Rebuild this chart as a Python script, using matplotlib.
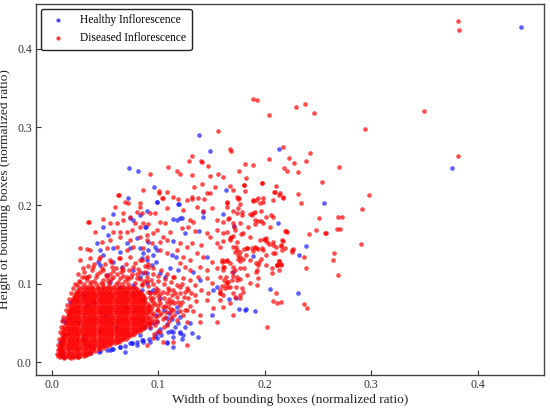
import matplotlib
matplotlib.use("Agg")
import matplotlib.pyplot as plt

# ---------------- data (width, height) in normalized ratio ----------------
healthy_points = [
    (0.440, 0.428), (0.376, 0.248), (0.2135, 0.272), (0.256, 0.203), (0.138, 0.290),
    (0.1485, 0.270), (0.073, 0.248), (0.081, 0.244), (0.096, 0.2235), (0.0716, 0.209),
    (0.0985, 0.204), (0.119, 0.202), (0.1635, 0.2195), (0.212, 0.177), (0.2386, 0.1485),
    (0.232, 0.136), (0.2308, 0.0885), (0.1607, 0.1886), (0.189, 0.135), (0.2048, 0.0928),
    (0.1666, 0.080), (0.1726, 0.0813), (0.1757, 0.0673), (0.182, 0.0673),
    (0.0988, 0.204), (0.1197, 0.2018), (0.0891, 0.1932), (0.1141, 0.1826), (0.1204, 0.1835),
    (0.1422, 0.1856), (0.1713, 0.1737), (0.1253, 0.1643), (0.0878, 0.1728), (0.1141, 0.1549),
    (0.1385, 0.1677), (0.0828, 0.1452), (0.0859, 0.1388), (0.0969, 0.1465), (0.0985, 0.143),
    (0.1126, 0.1367), (0.1166, 0.1345), (0.1454, 0.1345), (0.0891, 0.1303), (0.0938, 0.1239),
    (0.0978, 0.1281), (0.111, 0.1196), (0.1188, 0.1175), (0.1328, 0.1153), (0.1016, 0.1133),
    (0.1063, 0.1082), (0.1391, 0.1047), (0.1516, 0.092), (0.1548, 0.0962), (0.0859, 0.1133),
    (0.0891, 0.1005), (0.0953, 0.092), (0.0844, 0.092),
    (0.0578, 0.0166), (0.0688, 0.0132), (0.0797, 0.0217), (0.0859, 0.026), (0.0985, 0.0302),
    (0.1079, 0.026), (0.1141, 0.0387), (0.1235, 0.0345), (0.1204, 0.0387), (0.1079, 0.0558),
    (0.1173, 0.0643), (0.150, 0.060), (0.1813, 0.0664), (0.1907, 0.065), (0.1016, 0.0813),
    (0.0922, 0.0898), (0.0765, 0.0983), (0.064, 0.0962), (0.0516, 0.111), (0.0453, 0.1239),
    (0.0484, 0.1367), (0.0578, 0.1452), (0.0704, 0.1516), (0.0797, 0.158), (0.0906, 0.143),
    (0.0953, 0.1367), (0.0484, 0.1728), (0.0734, 0.1835), (0.1173, 0.1814), (0.122, 0.1835),
    (0.1422, 0.192), (0.0172, 0.077), (0.0125, 0.0515), (0.0078, 0.026), (0.0094, 0.0132),
    (0.0093, 0.011), (0.0328, 0.0728), (0.0547, 0.1026), (0.0296, 0.0856), (0.170, 0.1153),
    (0.0985, 0.0515), (0.0922, 0.043), (0.0828, 0.0345), (0.0734, 0.0237), (0.064, 0.0195),
    (0.0547, 0.0153), (0.0453, 0.0145), (0.1141, 0.0196), (0.1375, 0.0323),
    (0.0572, 0.189), (0.0531, 0.1622), (0.0765, 0.1814), (0.0828, 0.1877), (0.0885, 0.1728),
    (0.0422, 0.1524), (0.0453, 0.143), (0.064, 0.1409), (0.0734, 0.1452), (0.0844, 0.1324),
    (0.0906, 0.1537), (0.0437, 0.128), (0.0578, 0.128), (0.0656, 0.1217), (0.0765, 0.1175),
    (0.0828, 0.109), (0.0891, 0.1133),
    (0.036, 0.011), (0.044, 0.013), (0.052, 0.015), (0.057, 0.016), (0.064, 0.019),
    (0.069, 0.021), (0.075, 0.024), (0.080, 0.026), (0.085, 0.028), (0.091, 0.030),
    (0.097, 0.033), (0.103, 0.035), (0.109, 0.038), (0.112, 0.040), (0.116, 0.045),
    (0.119, 0.050), (0.010, 0.008), (0.012, 0.006), (0.0094, 0.028), (0.0109, 0.0536),
    (0.0985, 0.0366), (0.108, 0.024), (0.114, 0.032), (0.1204, 0.0366), (0.122, 0.030),
    (0.1313, 0.0366), (0.086, 0.028), (0.092, 0.026), (0.075, 0.0238),
    (0.088, 0.045), (0.095, 0.050), (0.102, 0.042), (0.108, 0.048), (0.113, 0.055),
    (0.120, 0.058), (0.125, 0.045), (0.130, 0.050), (0.118, 0.070), (0.105, 0.066),
    (0.098, 0.060), (0.110, 0.062),
    (0.030, 0.030), (0.045, 0.040), (0.025, 0.050), (0.050, 0.060), (0.040, 0.075),
    (0.060, 0.045), (0.035, 0.020), (0.070, 0.070),
]

diseased_outliers = [
    (0.381, 0.4355), (0.382, 0.4236), (0.3495, 0.3206), (0.381, 0.2635), (0.2295, 0.3257),
    (0.238, 0.329), (0.246, 0.318), (0.2936, 0.298), (0.217, 0.274), (0.242, 0.2665),
    (0.2226, 0.2605), (0.239, 0.257), (0.2273, 0.254), (0.2176, 0.2478), (0.221, 0.244),
    (0.2308, 0.243), (0.2698, 0.249), (0.2536, 0.2295), (0.2107, 0.2244), (0.210, 0.2167),
    (0.2145, 0.2155), (0.217, 0.210), (0.2313, 0.215), (0.298, 0.213), (0.2336, 0.2026),
    (0.2908, 0.1958), (0.2505, 0.1843), (0.2683, 0.1856), (0.272, 0.1848), (0.2676, 0.170),
    (0.271, 0.170), (0.248, 0.169), (0.2564, 0.1648), (0.2573, 0.165), (0.2417, 0.1635),
    (0.2198, 0.1673), (0.2163, 0.1554), (0.2154, 0.1486), (0.2191, 0.1456), (0.2266, 0.1439),
    (0.226, 0.1409), (0.2158, 0.1426), (0.2904, 0.1503), (0.2648, 0.1392), (0.2642, 0.1307),
    (0.2367, 0.1345), (0.2132, 0.129), (0.2117, 0.1239), (0.2154, 0.1248), (0.2132, 0.1179),
    (0.2383, 0.1205), (0.2686, 0.1107), (0.2104, 0.0885), (0.211, 0.0757), (0.237, 0.0745),
    (0.2398, 0.0693),
    (0.189, 0.336), (0.193, 0.334), (0.204, 0.3155), (0.156, 0.2954), (0.1675, 0.272),
    (0.1685, 0.2695), (0.132, 0.2635), (0.129, 0.257), (0.140, 0.2567), (0.141, 0.256),
    (0.147, 0.250), (0.1754, 0.2443), (0.1816, 0.253), (0.1888, 0.252), (0.204, 0.259),
    (0.109, 0.2486), (0.0925, 0.240), (0.118, 0.2443), (0.120, 0.2397), (0.132, 0.2388),
    (0.1485, 0.2379), (0.156, 0.240), (0.161, 0.2358), (0.1825, 0.235), (0.197, 0.229),
    (0.1335, 0.224), (0.1415, 0.2277), (0.1807, 0.226), (0.1673, 0.2252), (0.0856, 0.2197),
    (0.101, 0.2188), (0.1085, 0.2175), (0.1488, 0.216), (0.1704, 0.220), (0.1813, 0.218),
    (0.0629, 0.2137), (0.1035, 0.2095), (0.1185, 0.208), (0.132, 0.2086), (0.143, 0.2086),
    (0.189, 0.2056), (0.198, 0.2047), (0.2085, 0.2167), (0.1529, 0.2235), (0.1757, 0.209),
    (0.1932, 0.209),
]

diseased_mid = [
    (0.1807, 0.2265), (0.1973, 0.229), (0.213, 0.2137), (0.2167, 0.2103), (0.1642, 0.2027),
    (0.1748, 0.2078), (0.1917, 0.2065), (0.170, 0.1928), (0.175, 0.1963), (0.179, 0.192),
    (0.189, 0.1907), (0.188, 0.188), (0.1966, 0.1928), (0.2054, 0.188), (0.1663, 0.1843),
    (0.1907, 0.1814), (0.1966, 0.1805), (0.2007, 0.1848), (0.161, 0.1784), (0.1704, 0.1771),
    (0.1904, 0.1759), (0.1713, 0.1724), (0.1722, 0.1686), (0.1647, 0.1664), (0.219, 0.1677),
    (0.2204, 0.166), (0.1779, 0.1635), (0.1682, 0.1596), (0.1698, 0.1605), (0.1673, 0.1554),
    (0.174, 0.1537), (0.161, 0.154), (0.1989, 0.1575), (0.2001, 0.1558), (0.2017, 0.1533),
    (0.2036, 0.1507), (0.2079, 0.149), (0.2148, 0.149), (0.2173, 0.154), (0.2104, 0.1473),
    (0.1726, 0.1465), (0.1766, 0.1409), (0.1717, 0.1409), (0.1804, 0.1439), (0.1835, 0.1452),
    (0.1879, 0.1452), (0.1917, 0.1456), (0.1935, 0.1443), (0.1973, 0.1452), (0.1891, 0.142),
    (0.2073, 0.1396), (0.2257, 0.143), (0.1797, 0.1319), (0.1823, 0.137), (0.175, 0.1362),
    (0.1748, 0.1311), (0.1766, 0.1286), (0.1595, 0.1303), (0.1616, 0.1286), (0.1647, 0.1303),
    (0.1673, 0.126), (0.1966, 0.1311), (0.1948, 0.1277), (0.1938, 0.1239), (0.213, 0.1286),
    (0.2117, 0.1239), (0.2148, 0.1243), (0.1616, 0.1217), (0.161, 0.1175), (0.1704, 0.1209),
    (0.1722, 0.1175), (0.1804, 0.1205), (0.1923, 0.1175), (0.1704, 0.1098), (0.1635, 0.109),
    (0.1735, 0.1082), (0.2067, 0.1133), (0.1616, 0.1047), (0.1654, 0.1026), (0.1691, 0.1047),
    (0.1766, 0.1064), (0.1595, 0.097), (0.1635, 0.0996), (0.1626, 0.0941), (0.1673, 0.0962),
    (0.1729, 0.0954), (0.1785, 0.0941), (0.1929, 0.0983), (0.1579, 0.0877), (0.161, 0.0856),
    (0.1704, 0.0877), (0.1766, 0.0856), (0.2079, 0.0783), (0.2148, 0.0766), (0.161, 0.0706),
    (0.1579, 0.0792),
    (0.101, 0.2154), (0.1047, 0.209), (0.114, 0.2112), (0.1266, 0.207), (0.1313, 0.2103),
    (0.1375, 0.209), (0.1453, 0.2154), (0.1641, 0.2048), (0.1735, 0.2112), (0.1766, 0.2018),
    (0.1891, 0.207), (0.1954, 0.2027), (0.1985, 0.209), (0.2079, 0.207),
    (0.0828, 0.1984), (0.0922, 0.1899), (0.0969, 0.1908), (0.1078, 0.1963), (0.1235, 0.1942),
    (0.136, 0.1984), (0.1422, 0.1933), (0.150, 0.1963), (0.1641, 0.1984), (0.1735, 0.1908),
    (0.1782, 0.1878), (0.186, 0.1891), (0.1907, 0.192), (0.2079, 0.1856),
    (0.0859, 0.1771), (0.0906, 0.1763), (0.1016, 0.1793), (0.1063, 0.1771), (0.1297, 0.1814),
    (0.1328, 0.1793), (0.1547, 0.1814), (0.1657, 0.1822), (0.1766, 0.1771), (0.1844, 0.172),
    (0.1938, 0.1805), (0.1985, 0.1771), (0.2047, 0.1729),
    (0.0953, 0.1644), (0.0984, 0.1686), (0.1047, 0.1601), (0.111, 0.1665), (0.1219, 0.1707),
    (0.1281, 0.1729), (0.1344, 0.1678), (0.1453, 0.1644), (0.1485, 0.1601), (0.1547, 0.1686),
    (0.161, 0.1644), (0.1672, 0.158), (0.1797, 0.1644), (0.186, 0.1601), (0.1954, 0.1558),
    (0.2016, 0.158), (0.2079, 0.1537),
    (0.0891, 0.1558), (0.0937, 0.1516), (0.1016, 0.1537), (0.1078, 0.1558), (0.1203, 0.1516),
    (0.1266, 0.1473), (0.1313, 0.1516), (0.1406, 0.1495), (0.1547, 0.1516), (0.1578, 0.1465),
    (0.1704, 0.1473), (0.1735, 0.1431), (0.1829, 0.1452), (0.1907, 0.1473), (0.1985, 0.1431),
    (0.2016, 0.1367), (0.2094, 0.1388),
    (0.1016, 0.1431), (0.1078, 0.1388), (0.1172, 0.1431), (0.1235, 0.1346), (0.1297, 0.1303),
    (0.136, 0.1388), (0.1422, 0.1346), (0.150, 0.1282), (0.1594, 0.1282), (0.1641, 0.1294),
    (0.1766, 0.1346), (0.186, 0.1303), (0.1922, 0.1261), (0.2016, 0.124), (0.211, 0.124),
    (0.1203, 0.1261), (0.125, 0.1218), (0.1297, 0.1175), (0.1391, 0.1218), (0.1453, 0.1175),
    (0.1547, 0.1197), (0.161, 0.1209), (0.1688, 0.1154), (0.1766, 0.1197), (0.1829, 0.1111),
    (0.1922, 0.1154), (0.2063, 0.1197),
    (0.114, 0.109), (0.1235, 0.1069), (0.1297, 0.1048), (0.1375, 0.1082), (0.1453, 0.1069),
    (0.150, 0.1005), (0.1578, 0.109), (0.1641, 0.1026), (0.1735, 0.1048), (0.186, 0.1005),
    (0.1938, 0.1069),
    (0.1203, 0.0962), (0.1281, 0.092), (0.1344, 0.0984), (0.1406, 0.092), (0.1469, 0.0877),
    (0.1578, 0.092), (0.1657, 0.0962), (0.1719, 0.0835), (0.1797, 0.0899),
    (0.085, 0.130), (0.090, 0.125), (0.095, 0.120), (0.088, 0.115), (0.100, 0.110),
    (0.093, 0.105), (0.105, 0.100), (0.098, 0.095), (0.085, 0.100), (0.110, 0.092),
    (0.090, 0.090), (0.102, 0.087), (0.113, 0.085), (0.095, 0.082), (0.086, 0.080),
    (0.1266, 0.0217), (0.139, 0.060), (0.1548, 0.0515), (0.1673, 0.075), (0.1766, 0.0813),
    (0.2017, 0.045), (0.1266, 0.0515), (0.1204, 0.0728), (0.1344, 0.0856), (0.1454, 0.0792),
    (0.1579, 0.0877), (0.1079, 0.0473), (0.1016, 0.0387), (0.1173, 0.0536), (0.1235, 0.060),
    (0.111, 0.0643), (0.1266, 0.0664), (0.139, 0.0515), (0.1516, 0.0686), (0.1704, 0.060),
    (0.0953, 0.0302), (0.0891, 0.0217), (0.1047, 0.026), (0.1141, 0.026),
    (0.0625, 0.2133), (0.0353, 0.1784), (0.0406, 0.1664), (0.0484, 0.1822), (0.0547, 0.178),
    (0.0594, 0.1984), (0.0688, 0.2047), (0.0719, 0.2027), (0.0828, 0.2027), (0.0672, 0.190),
    (0.0734, 0.1856), (0.0797, 0.192), (0.0844, 0.1907), (0.061, 0.1771), (0.0672, 0.1814),
    (0.0781, 0.1771), (0.0828, 0.1728), (0.0578, 0.1664), (0.064, 0.1664), (0.0704, 0.1664),
    (0.075, 0.1686), (0.0469, 0.1537), (0.0547, 0.1558), (0.064, 0.160), (0.0734, 0.1558),
    (0.0828, 0.160), (0.0891, 0.1622), (0.0328, 0.1439), (0.036, 0.143), (0.0516, 0.1452),
    (0.061, 0.1473), (0.0704, 0.143), (0.0765, 0.1473), (0.0859, 0.1452), (0.0265, 0.1303),
    (0.036, 0.1324), (0.0453, 0.1345), (0.0547, 0.1303), (0.064, 0.1324), (0.0734, 0.1337),
    (0.0828, 0.1303), (0.0891, 0.1345), (0.0296, 0.1196), (0.039, 0.1217), (0.0484, 0.1175),
    (0.0563, 0.1217), (0.0672, 0.1175), (0.0765, 0.1217), (0.0828, 0.1153), (0.0906, 0.1217),
    (0.025, 0.112), (0.0328, 0.109), (0.0422, 0.112), (0.0516, 0.109), (0.061, 0.112),
    (0.0704, 0.109), (0.0797, 0.112), (0.0891, 0.109), (0.0343, 0.179), (0.0265, 0.1452),
    (0.092, 0.045), (0.096, 0.052), (0.094, 0.060), (0.099, 0.066), (0.097, 0.074),
    (0.104, 0.070), (0.101, 0.079), (0.108, 0.077), (0.106, 0.058), (0.112, 0.068),
    (0.115, 0.075), (0.118, 0.083), (0.092, 0.083), (0.096, 0.088), (0.100, 0.092),
    (0.090, 0.097), (0.095, 0.100), (0.087, 0.104), (0.080, 0.107), (0.072, 0.106),
    (0.064, 0.107), (0.056, 0.106), (0.048, 0.105), (0.040, 0.104), (0.033, 0.105),
    (0.027, 0.102), (0.005, 0.010), (0.006, 0.015), (0.006, 0.022), (0.007, 0.030),
    (0.008, 0.038), (0.009, 0.045), (0.010, 0.052), (0.011, 0.058), (0.013, 0.066),
    (0.014, 0.073), (0.016, 0.080), (0.018, 0.088), (0.020, 0.095), (0.022, 0.100),
    (0.012, 0.005), (0.018, 0.005), (0.025, 0.007), (0.032, 0.009),
    (0.092, 0.050), (0.098, 0.057), (0.103, 0.062), (0.093, 0.068), (0.095, 0.076),
    (0.100, 0.072), (0.105, 0.082), (0.110, 0.080), (0.108, 0.088), (0.114, 0.092),
    (0.120, 0.088), (0.118, 0.098), (0.112, 0.102), (0.106, 0.106), (0.100, 0.104),
    (0.095, 0.112), (0.103, 0.118), (0.108, 0.112), (0.115, 0.108), (0.122, 0.100),
    (0.125, 0.090), (0.128, 0.082), (0.122, 0.076), (0.130, 0.072), (0.125, 0.067),
    (0.115, 0.060), (0.110, 0.052), (0.105, 0.045), (0.100, 0.040), (0.096, 0.036),
    (0.035, 0.110), (0.045, 0.115), (0.055, 0.113), (0.065, 0.115), (0.075, 0.113),
    (0.050, 0.125), (0.060, 0.120), (0.070, 0.125), (0.040, 0.125), (0.030, 0.115),
    (0.026, 0.104), (0.031, 0.108), (0.037, 0.102), (0.042, 0.108), (0.046, 0.101),
    (0.051, 0.111), (0.053, 0.103), (0.058, 0.109), (0.062, 0.102), (0.067, 0.110),
    (0.069, 0.103), (0.074, 0.108), (0.078, 0.101), (0.083, 0.106), (0.085, 0.098),
    (0.089, 0.103), (0.038, 0.117), (0.047, 0.120), (0.058, 0.116), (0.066, 0.120),
    (0.073, 0.117), (0.081, 0.119), (0.034, 0.123), (0.044, 0.131), (0.056, 0.128),
    (0.063, 0.133), (0.078, 0.127), (0.088, 0.122), (0.028, 0.108), (0.024, 0.098),
    (0.093, 0.055), (0.095, 0.063), (0.094, 0.071), (0.093, 0.079), (0.092, 0.088),
    (0.097, 0.047), (0.099, 0.053), (0.101, 0.060), (0.100, 0.067), (0.102, 0.075),
    (0.100, 0.084), (0.098, 0.090), (0.104, 0.055), (0.107, 0.064), (0.106, 0.072),
    (0.109, 0.070), (0.104, 0.090), (0.109, 0.095), (0.112, 0.058), (0.114, 0.066),
    (0.111, 0.075), (0.113, 0.078), (0.116, 0.088), (0.120, 0.065), (0.119, 0.077),
    (0.124, 0.083), (0.127, 0.095), (0.131, 0.088), (0.135, 0.078), (0.133, 0.065),
]

# dense core: each row is (height, [widths])
diseased_core_rows = [
    (0.006, [0.008, 0.012, 0.016, 0.021, 0.025]),
    (0.008, [0.006, 0.010, 0.014, 0.019, 0.023, 0.027, 0.030]),
    (0.010, [0.007, 0.010, 0.014, 0.018, 0.023, 0.027, 0.031, 0.034]),
    (0.012, [0.008, 0.012, 0.016, 0.020, 0.025, 0.029, 0.033, 0.037]),
    (0.014, [0.009, 0.012, 0.016, 0.021, 0.025, 0.029, 0.033, 0.037, 0.041]),
    (0.016, [0.007, 0.010, 0.014, 0.018, 0.023, 0.027, 0.031, 0.035, 0.039, 0.044]),
    (0.018, [0.008, 0.011, 0.015, 0.019, 0.023, 0.027, 0.031, 0.036, 0.040, 0.044, 0.048]),
    (0.020, [0.008, 0.011, 0.015, 0.019, 0.023, 0.028, 0.032, 0.036, 0.040, 0.044, 0.048, 0.052]),
    (0.022, [0.009, 0.013, 0.017, 0.021, 0.025, 0.030, 0.034, 0.038, 0.042, 0.046, 0.050, 0.055]),
    (0.024, [0.009, 0.011, 0.015, 0.019, 0.023, 0.027, 0.031, 0.035, 0.039, 0.043, 0.047, 0.051, 0.055, 0.059]),
    (0.026, [0.009, 0.012, 0.016, 0.020, 0.024, 0.028, 0.032, 0.036, 0.041, 0.045, 0.049, 0.053, 0.057, 0.061, 0.063]),
    (0.028, [0.010, 0.012, 0.016, 0.020, 0.024, 0.028, 0.032, 0.037, 0.041, 0.045, 0.049, 0.053, 0.057, 0.061, 0.065]),
    (0.030, [0.010, 0.014, 0.018, 0.022, 0.026, 0.030, 0.034, 0.039, 0.043, 0.047, 0.051, 0.055, 0.059, 0.063, 0.067, 0.070]),
    (0.032, [0.011, 0.012, 0.016, 0.020, 0.024, 0.028, 0.032, 0.036, 0.040, 0.044, 0.048, 0.052, 0.056, 0.060, 0.064, 0.068, 0.072]),
    (0.034, [0.010, 0.013, 0.017, 0.021, 0.025, 0.029, 0.033, 0.037, 0.041, 0.045, 0.049, 0.053, 0.057, 0.061, 0.065, 0.069, 0.073, 0.075]),
    (0.036, [0.012, 0.013, 0.017, 0.021, 0.025, 0.029, 0.033, 0.037, 0.041, 0.045, 0.049, 0.053, 0.057, 0.061, 0.065, 0.069, 0.073, 0.077]),
    (0.038, [0.011, 0.015, 0.019, 0.023, 0.027, 0.031, 0.035, 0.039, 0.043, 0.047, 0.051, 0.055, 0.059, 0.063, 0.067, 0.071, 0.075, 0.079]),
    (0.040, [0.012, 0.016, 0.020, 0.024, 0.028, 0.032, 0.036, 0.040, 0.044, 0.048, 0.052, 0.056, 0.060, 0.064, 0.068, 0.072, 0.076, 0.080, 0.083]),
    (0.042, [0.011, 0.014, 0.018, 0.022, 0.026, 0.030, 0.034, 0.038, 0.042, 0.046, 0.050, 0.054, 0.058, 0.062, 0.066, 0.070, 0.074, 0.078, 0.082, 0.085]),
    (0.044, [0.013, 0.016, 0.020, 0.024, 0.028, 0.032, 0.036, 0.040, 0.044, 0.048, 0.052, 0.056, 0.060, 0.064, 0.068, 0.072, 0.076, 0.080, 0.084, 0.087]),
    (0.046, [0.012, 0.016, 0.020, 0.024, 0.028, 0.032, 0.036, 0.040, 0.044, 0.048, 0.052, 0.056, 0.060, 0.064, 0.068, 0.072, 0.076, 0.080, 0.084, 0.088]),
    (0.048, [0.014, 0.018, 0.022, 0.026, 0.030, 0.034, 0.038, 0.042, 0.046, 0.050, 0.054, 0.058, 0.062, 0.066, 0.070, 0.074, 0.078, 0.082, 0.086, 0.090]),
    (0.050, [0.013, 0.017, 0.021, 0.025, 0.029, 0.033, 0.037, 0.041, 0.045, 0.049, 0.053, 0.057, 0.061, 0.065, 0.069, 0.073, 0.077, 0.081, 0.085, 0.089, 0.092]),
    (0.052, [0.015, 0.019, 0.023, 0.027, 0.031, 0.035, 0.039, 0.043, 0.047, 0.051, 0.055, 0.059, 0.063, 0.067, 0.071, 0.075, 0.079, 0.083, 0.087, 0.091]),
    (0.054, [0.013, 0.016, 0.020, 0.024, 0.028, 0.032, 0.036, 0.040, 0.044, 0.048, 0.052, 0.056, 0.060, 0.064, 0.068, 0.072, 0.076, 0.080, 0.084, 0.088]),
    (0.056, [0.015, 0.018, 0.022, 0.026, 0.030, 0.034, 0.038, 0.042, 0.046, 0.050, 0.054, 0.058, 0.062, 0.066, 0.070, 0.074, 0.078, 0.082, 0.086, 0.090]),
    (0.058, [0.014, 0.018, 0.022, 0.026, 0.030, 0.034, 0.038, 0.042, 0.046, 0.050, 0.054, 0.058, 0.062, 0.066, 0.070, 0.074, 0.078, 0.082, 0.086, 0.090]),
    (0.060, [0.016, 0.020, 0.024, 0.028, 0.032, 0.036, 0.040, 0.044, 0.048, 0.052, 0.056, 0.060, 0.064, 0.068, 0.072, 0.076, 0.080, 0.084, 0.088]),
    (0.062, [0.015, 0.017, 0.021, 0.025, 0.029, 0.033, 0.037, 0.041, 0.045, 0.049, 0.053, 0.057, 0.061, 0.065, 0.069, 0.073, 0.077, 0.081, 0.085, 0.089]),
    (0.064, [0.017, 0.019, 0.023, 0.027, 0.031, 0.035, 0.039, 0.043, 0.047, 0.051, 0.055, 0.059, 0.063, 0.067, 0.071, 0.075, 0.079, 0.083, 0.087, 0.091]),
    (0.066, [0.016, 0.019, 0.023, 0.027, 0.031, 0.035, 0.039, 0.043, 0.047, 0.051, 0.055, 0.059, 0.063, 0.067, 0.071, 0.075, 0.079, 0.083, 0.087, 0.091]),
    (0.068, [0.018, 0.021, 0.025, 0.029, 0.033, 0.037, 0.041, 0.045, 0.049, 0.053, 0.057, 0.061, 0.065, 0.069, 0.073, 0.077, 0.081, 0.085, 0.089]),
    (0.070, [0.017, 0.021, 0.025, 0.029, 0.033, 0.037, 0.041, 0.045, 0.049, 0.053, 0.057, 0.061, 0.065, 0.069, 0.073, 0.077, 0.081, 0.085, 0.089]),
    (0.072, [0.019, 0.023, 0.027, 0.031, 0.035, 0.039, 0.043, 0.047, 0.051, 0.055, 0.059, 0.063, 0.067, 0.071, 0.075, 0.079, 0.083, 0.087, 0.091]),
    (0.074, [0.018, 0.022, 0.026, 0.030, 0.034, 0.038, 0.042, 0.046, 0.050, 0.054, 0.058, 0.062, 0.066, 0.070, 0.074, 0.078, 0.082, 0.086, 0.090]),
    (0.076, [0.020, 0.024, 0.028, 0.032, 0.036, 0.040, 0.044, 0.048, 0.052, 0.056, 0.060, 0.064, 0.068, 0.072, 0.076, 0.080, 0.084, 0.088]),
    (0.078, [0.019, 0.023, 0.027, 0.031, 0.035, 0.039, 0.043, 0.047, 0.051, 0.055, 0.059, 0.063, 0.067, 0.071, 0.075, 0.079, 0.083, 0.087]),
    (0.080, [0.021, 0.025, 0.029, 0.033, 0.037, 0.041, 0.045, 0.049, 0.053, 0.057, 0.061, 0.065, 0.069, 0.073, 0.077, 0.081, 0.085]),
    (0.082, [0.020, 0.024, 0.028, 0.032, 0.036, 0.040, 0.044, 0.048, 0.052, 0.056, 0.060, 0.064, 0.068, 0.072, 0.076, 0.080, 0.084, 0.088]),
    (0.084, [0.022, 0.026, 0.030, 0.034, 0.038, 0.042, 0.046, 0.050, 0.054, 0.058, 0.062, 0.066, 0.070, 0.074, 0.078, 0.082, 0.086]),
    (0.086, [0.022, 0.026, 0.030, 0.034, 0.038, 0.042, 0.046, 0.050, 0.054, 0.058, 0.062, 0.066, 0.070, 0.074, 0.078, 0.082, 0.086]),
    (0.088, [0.024, 0.028, 0.032, 0.036, 0.040, 0.044, 0.048, 0.052, 0.056, 0.060, 0.064, 0.068, 0.072, 0.076, 0.080, 0.084]),
    (0.090, [0.023, 0.027, 0.031, 0.035, 0.039, 0.043, 0.047, 0.051, 0.055, 0.059, 0.063, 0.067, 0.071, 0.075, 0.079, 0.083]),
    (0.092, [0.025, 0.029, 0.033, 0.037, 0.041, 0.045, 0.049, 0.053, 0.057, 0.061, 0.065, 0.069, 0.073, 0.077, 0.081]),
    (0.094, [0.026, 0.031, 0.035, 0.039, 0.043, 0.047, 0.051, 0.055, 0.059, 0.063, 0.067, 0.071, 0.075, 0.079]),
    (0.096, [0.028, 0.033, 0.038, 0.043, 0.048, 0.053, 0.058, 0.063, 0.068, 0.073, 0.077]),
    (0.099, [0.030, 0.036, 0.042, 0.048, 0.054, 0.060, 0.066, 0.072]),
]

series_labels = ["Healthy Inflorescence", "Diseased Inflorescence"]
x_label = "Width of bounding boxes (normalized ratio)"
y_label = "Height of bounding boxes (normalized ratio)"
x_ticks = [0.0, 0.1, 0.2, 0.3, 0.4]
y_ticks = [0.0, 0.1, 0.2, 0.3, 0.4]

# ---------------- assemble ----------------
healthy_w = [p[0] for p in healthy_points]
healthy_h = [p[1] for p in healthy_points]
dis_pts = list(diseased_outliers) + list(diseased_mid)
for yv, xs in diseased_core_rows:
    dis_pts += [(xv, yv) for xv in xs]
diseased_w = [p[0] for p in dis_pts]
diseased_h = [p[1] for p in dis_pts]

plt.rcParams['font.family'] = ['Liberation Serif', 'DejaVu Serif']

fig = plt.figure(figsize=(5.5, 4.09), dpi=100)
ax = fig.add_axes([0.0655, 0.0831, 0.9235, 0.9069])

ax.scatter(healthy_w, healthy_h, s=11, c='#1a1aff', alpha=0.7, linewidths=0,
           label=series_labels[0])
ax.scatter(diseased_w, diseased_h, s=11, c='#ff0000', alpha=0.7, linewidths=0,
           label=series_labels[1])

ax.set_xlim(-0.0147, 0.462)
ax.set_ylim(-0.0166, 0.457)
ax.set_xticks(x_ticks)
ax.set_yticks(y_ticks)
ax.set_xticklabels([f"{t:.1f}" for t in x_ticks])
ax.set_yticklabels([f"{t:.1f}" for t in y_ticks])
ax.tick_params(direction='in', length=3.5, width=0.8, labelsize=8.5,
               colors='#333333', pad=3)
for sp in ax.spines.values():
    sp.set_color('#444444')
    sp.set_linewidth(1.0)

ax.set_xlabel(x_label, fontsize=9.6, color='#222222', labelpad=2)
ax.set_ylabel(y_label, fontsize=9.6, color='#222222', labelpad=4)

leg = ax.legend(loc='upper left', fontsize=8.3, frameon=True, fancybox=True,
                framealpha=1, edgecolor='#222222', markerscale=0.9,
                handletextpad=0.9, borderpad=0.5, labelspacing=0.5,
                handlelength=2.0, borderaxespad=0.4)
leg.get_frame().set_linewidth(1.0)
for h in leg.legend_handles:
    h.set_alpha(0.8)

fig.savefig("out.png", dpi=100)
